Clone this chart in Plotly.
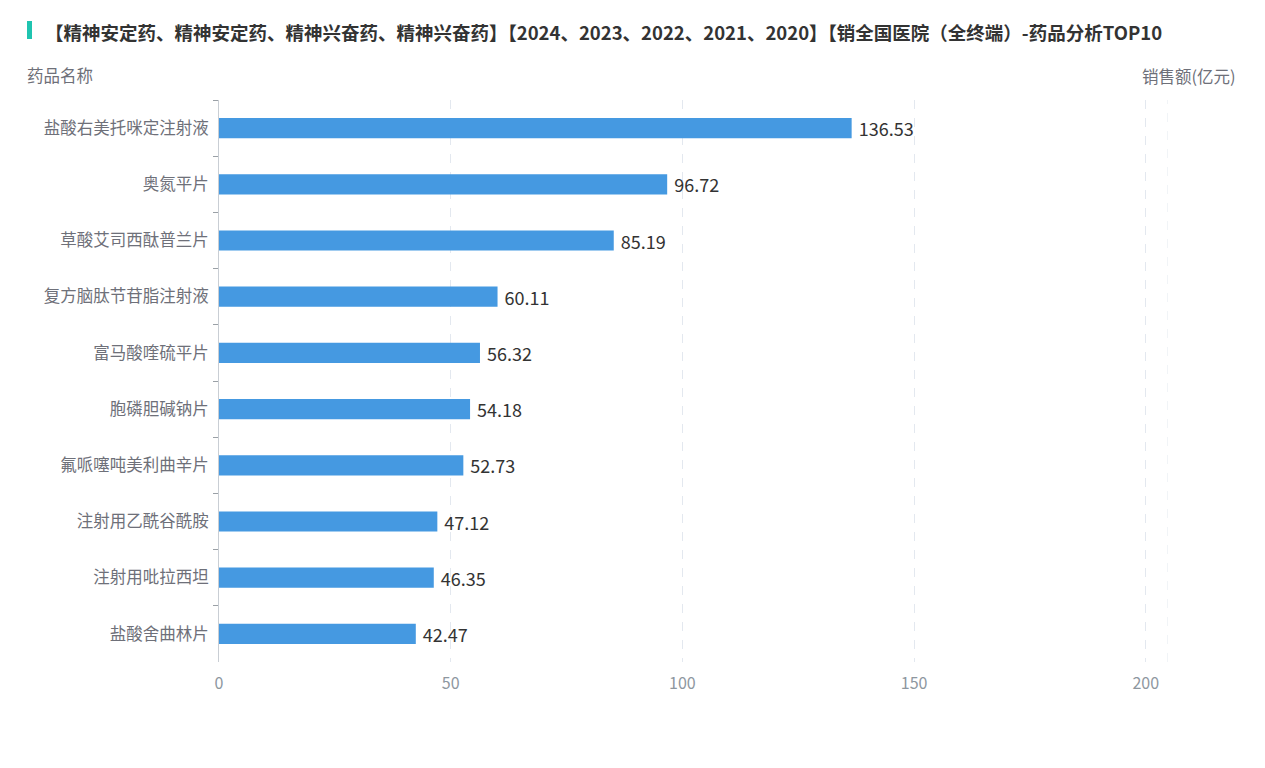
import plotly.graph_objects as go

drugs = ["盐酸右美托咪定注射液", "奥氮平片", "草酸艾司西酞普兰片", "复方脑肽节苷脂注射液",
         "富马酸喹硫平片", "胞磷胆碱钠片", "氟哌噻吨美利曲辛片", "注射用乙酰谷酰胺",
         "注射用吡拉西坦", "盐酸舍曲林片"]
sales = [136.53, 96.72, 85.19, 60.11, 56.32, 54.18, 52.73, 47.12, 46.35, 42.47]
x_ticks = [0, 50, 100, 150, 200]
x_max = 204.8

title = "【精神安定药、精神安定药、精神兴奋药、精神兴奋药】【2024、2023、2022、2021、2020】【销全国医院（全终端）-药品分析TOP10"
font_family = "Noto Sans CJK SC, Noto Sans, sans-serif"

W, H = 1257, 760
L, R, T, B = 211, 97, 92, 106
PW, PH = W - L - R, H - T - B


def px(x):
    return (x - L) / PW


def py(y):
    return 1 + (T - y) / PH


fig = go.Figure(go.Bar(
    x=sales, y=drugs, orientation="h",
    marker=dict(color="#4599E1", line=dict(width=0)),
    width=0.36,
    texttemplate=" %{x:.2f}", textposition="outside", constraintext="none",
    textfont=dict(size=18, color="#333333", family=font_family),
    cliponaxis=False,
))

fig.update_layout(
    width=W, height=H,
    margin=dict(l=L, r=R, t=T, b=B),
    plot_bgcolor="white", paper_bgcolor="white",
    font=dict(family=font_family),
    showlegend=False,
    xaxis=dict(range=[0, x_max], tickvals=x_ticks, showgrid=True, gridcolor="#E3E8EF",
               griddash="dash", gridwidth=1, zeroline=False, showline=False,
               tickfont=dict(size=16, color="#8E979F"), ticks="", ticklabelstandoff=10),
    yaxis=dict(autorange="reversed", showline=True, linecolor="#C9CED4", linewidth=1,
               ticks="outside", tickson="boundaries", ticklen=5, tickcolor="#9AA0A6",
               tickfont=dict(size=16.5, color="#6E7079"), showgrid=False, ticklabelstandoff=6),
    shapes=[
        dict(type="rect", xref="paper", yref="paper", x0=px(19), x1=px(24),
             y0=py(31), y1=py(13), fillcolor="#1FC4B0", line=dict(width=0)),
        dict(type="line", xref="x", yref="paper", x0=x_max, x1=x_max, y0=0, y1=1,
             line=dict(color="#E3E8EF", width=1, dash="dash")),
    ],
    annotations=[
        dict(text=f"<b>{title}</b>", xref="paper", yref="paper", x=px(35), y=py(24),
             xanchor="left", yanchor="middle", showarrow=False,
             font=dict(size=18.5, color="#333333", family=font_family)),
        dict(text="药品名称", xref="paper", yref="paper", x=px(17), y=py(67),
             xanchor="left", yanchor="middle", showarrow=False,
             font=dict(size=16.5, color="#6E7079", family=font_family)),
        dict(text="销售额(亿元)", xref="paper", yref="paper", x=px(1230), y=py(68),
             xanchor="right", yanchor="middle", showarrow=False,
             font=dict(size=16.5, color="#6E7079", family=font_family)),
    ],
)

fig.write_html("out.html")
